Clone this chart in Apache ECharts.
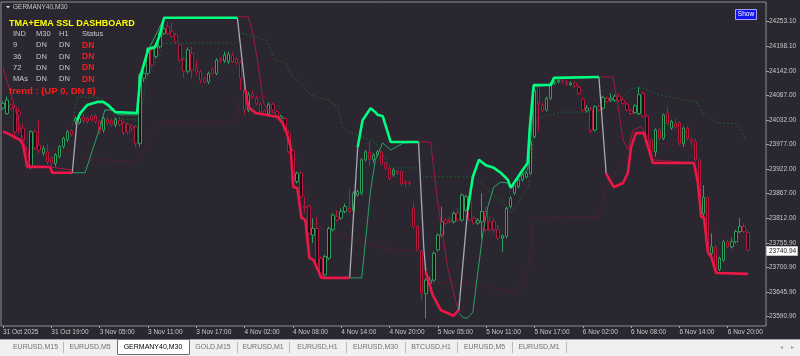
<!DOCTYPE html>
<html><head><meta charset="utf-8">
<script src="https://cdn.jsdelivr.net/npm/echarts@6/dist/echarts.min.js"></script>
<style>html,body{margin:0;padding:0;background:#2b2731;overflow:hidden}#c{width:800px;height:356px}</style>
</head><body><div id="c"></div>
<script>
// ---------- DATA ----------
const tickLabels = ["31 Oct 2025","31 Oct 19:00","3 Nov 05:00","3 Nov 11:00","3 Nov 17:00","4 Nov 02:00","4 Nov 08:00","4 Nov 14:00","4 Nov 20:00","5 Nov 05:00","5 Nov 11:00","5 Nov 17:00","6 Nov 02:00","6 Nov 08:00","6 Nov 14:00","6 Nov 20:00"];
const barsPerTick = 12;
const totalSlots = 190;
const priceTicks = [24253.10,24198.10,24142.00,24087.00,24032.00,23977.00,23922.00,23867.00,23812.00,23755.90,23700.90,23645.90,23590.90];
const lastPrice = 23740.94;

const opens = [24059,24047,24066,24062,24051,24014,23965,23928,24006,23976,23958,23961,23946,23935,23950,23973,23988,24008,24030,24026,24038,24036,24040,24041,24029,24010,24034,24031,24021,24031,24026,24023,24019,24017,23980,24126,24137,24190,24175,24197,24227,24242,24231,24223,24201,24169,24142,24182,24148,24141,24126,24118,24145,24137,24169,24165,24163,24178,24169,24161,24100,24055,24092,24081,24068,24053,24047,24068,24051,24036,24036,24003,23964,23894,23913,23839,23838,23774,23789,23722,23685,23722,23786,23815,23812,23827,23834,23830,23864,23868,23943,23961,23943,23954,23961,23935,23924,23909,23916,23916,23894,23892,23834,23793,23737,23643,23666,23673,23741,23774,23808,23808,23804,23823,23808,23830,23849,23812,23801,23804,23827,23804,23804,23786,23767,23771,23838,23868,23883,23898,23905,23913,23995,24107,24066,24055,24081,24115,24118,24122,24116,24112,24115,24106,24079,24053,24055,24010,24062,24059,24081,24077,24077,24086,24077,24068,24053,24049,24047,24092,24041,23987,23961,24010,23991,24047,24014,24025,24026,23980,24014,23989,23984,23941,23823,23857,23733,23747,23697,23718,23759,23748,23759,23782,23793,23780];
const closes = [24070,24077,24059,24006,24044,23988,23928,24006,23969,23965,23969,23939,23935,23954,23973,23991,24006,24000,24036,24036,24031,24029,24033,24029,24006,24036,24026,24023,24034,24023,24004,24006,24014,23980,24133,24137,24193,24156,24201,24227,24237,24227,24220,24208,24167,24142,24190,24145,24141,24122,24118,24137,24137,24167,24165,24178,24180,24163,24161,24126,24055,24089,24085,24070,24051,24047,24068,24055,24041,24040,24010,23961,23898,23913,23860,23836,23778,23789,23703,23681,23726,23789,23819,23808,23827,23838,23827,23868,23872,23943,23961,23944,23954,23961,23935,23924,23901,23920,23913,23890,23890,23891,23793,23741,23643,23673,23673,23733,23774,23804,23801,23804,23823,23808,23864,23860,23808,23801,23807,23827,23786,23786,23786,23767,23772,23834,23857,23887,23898,23909,23913,23984,24100,24070,24055,24081,24115,24118,24121,24118,24113,24115,24109,24092,24055,24059,24010,24062,24056,24083,24074,24081,24086,24077,24070,24055,24047,24064,24089,24041,23984,23961,24010,23991,24044,24025,24029,24017,23980,24014,23991,23984,23943,23860,23859,23741,23748,23697,23722,23759,23748,23759,23782,23793,23782,23740.94];
const lows = [24055,24044,24054,23988,24002,23980,23924,23922,23965,23958,23952,23932,23928,23928,23946,23968,23983,23995,24022,24022,24025,24024,24028,24024,24000,24004,24022,24018,24016,24018,23998,24000,24008,23972,23972,24118,24133,24150,24170,24193,24223,24223,24216,24204,24163,24126,24137,24126,24133,24115,24115,24113,24133,24133,24160,24160,24158,24160,24156,24100,24044,24050,24080,24066,24047,24043,24043,24051,24037,24032,24006,23957,23894,23890,23856,23823,23774,23756,23699,23677,23677,23718,23782,23804,23808,23823,23823,23826,23860,23864,23939,23928,23935,23950,23931,23920,23897,23905,23909,23883,23880,23883,23789,23737,23628,23587,23658,23669,23737,23770,23797,23800,23800,23804,23804,23826,23804,23797,23797,23767,23782,23782,23778,23763,23737,23767,23834,23864,23879,23894,23901,23909,23991,24006,24051,24051,24077,24111,24114,24114,24109,24109,24105,24088,24051,24049,24002,24006,24051,24055,24070,24073,24073,24073,24066,24051,24043,24045,24043,24037,23980,23950,23950,23987,23987,24021,24010,24014,23976,23972,23987,23976,23939,23856,23816,23733,23726,23693,23693,23714,23744,23744,23755,23778,23778,23737];
const highs = [24074,24085,24070,24066,24059,24025,23972,24010,24012,24032,23975,23980,23952,23958,23976,23995,24010,24012,24040,24045,24047,24040,24045,24047,24033,24040,24040,24036,24038,24040,24033,24027,24023,24021,24138,24142,24197,24197,24205,24231,24242,24253,24253,24228,24205,24173,24195,24197,24167,24145,24130,24141,24150,24171,24173,24186,24186,24184,24173,24165,24107,24095,24098,24088,24072,24057,24072,24072,24055,24044,24040,24010,23968,23917,23917,23860,23842,23812,23815,23726,23730,23793,23823,23830,23834,23845,23879,23872,23876,23947,23965,23984,23958,23965,23965,23939,23928,23924,23920,23920,23898,23897,23849,23797,23741,23677,23680,23737,23778,23838,23812,23815,23827,23834,23868,23864,23853,23816,23812,23868,23838,23815,23812,23797,23776,23838,23861,23890,23902,23913,23917,23988,24104,24112,24070,24085,24119,24122,24126,24127,24122,24119,24119,24110,24083,24066,24062,24066,24066,24087,24085,24092,24090,24092,24081,24072,24057,24068,24107,24096,24045,23991,24014,24014,24047,24061,24033,24036,24030,24018,24018,23993,23991,23945,23886,23860,23778,23752,23726,23763,23763,23767,23786,23812,23800,23785];

// SSL lines: [bar index, price]
const sslUpThick = [
  [[18.4,24032],[19.2,24048],[20.9,24066],[23.4,24073],[24.9,24073],[26.1,24066],[27.9,24050],[33.3,24048],[34.1,24129],[36.1,24192],[37.8,24196],[38.8,24219],[40,24262],[58.2,24262]],
  [[88.1,23972],[89.3,24032],[91.3,24059],[92.5,24050],[93,24044],[94.3,24041],[96.3,23983],[103.2,23983]],
  [[115.4,23830],[116.7,23905],[118.2,23943],[119.9,23931],[121.9,23925],[123.6,23914],[125.4,23898],[126.1,23880],[127.4,23898],[128.6,23914],[130.3,23936],[130.8,24010],[131.8,24111],[136.1,24111],[136.8,24127],[148,24129]]
];
const sslDnThick = [
  [[0,24006],[1,24003],[4.2,23988],[5,23976],[5.7,23943],[6.2,23927],[11.7,23927],[12.2,23914],[17.2,23914]],
  [[60.2,24100],[60.9,24062],[62.7,24048],[65.2,24044],[68.2,24039],[69.4,24026],[70.4,24006],[71.4,23972],[72.1,23882],[73.1,23880],[74.1,23813],[75.1,23808],[76.1,23723],[77.1,23718],[79.1,23678],[86.1,23678]],
  [[105,23692],[106.7,23640],[108.7,23606],[111.9,23593],[113.2,23606]],
  [[149.8,23913],[150.2,23905],[151.7,23882],[154,23891],[155.2,23914],[156,23972],[157.2,24003],[159.2,24003],[160.2,23972],[161.4,23936],[171.6,23936],[172.6,23891],[173.4,23815],[174.1,23813],[175.1,23734],[175.9,23725],[177.1,23689],[185,23687]]
];
const sslFlip = [
  [[17.2,23914],[18.4,24032]],
  [[58.2,24262],[60.2,24100]],
  [[86.1,23678],[88.1,23972]],
  [[103.2,23983],[104.5,23747],[105,23692]],
  [[113.2,23606],[115.4,23830]],
  [[148,24129],[149.8,23913]]
];
const midUp = [
  [[17.2,23914],[20.4,23914],[24.1,24017],[25.3,24055],[27.4,24055],[28.6,24044],[33.3,24044],[34.1,24127],[36.1,24190],[40,24261],[58.2,24261]],
  [[86.1,23678],[89.1,23678],[91.3,23875],[92.5,23943],[94.3,23981],[96.3,23965],[99.5,23981],[103.2,23983]],
  [[113.2,23599],[114.4,23588],[115.4,23588],[116.7,23601],[117.9,23689],[119.2,23779],[120.4,23837],[121.9,23882],[123.6,23893],[125.4,23891],[126.1,23880],[127.9,23902],[130.3,23920],[131.3,24010],[131.8,24107],[136.1,24111],[136.8,24127],[148,24129]]
];
const midDn = [
  [[0,24151],[1.7,24100],[4.2,24017],[6,23954],[6.7,23931],[11.7,23927],[17.2,23920]],
  [[58.2,24264],[60.9,24264],[61.9,24234],[63.2,24167],[64.7,24071],[65.7,24055],[68.2,24044],[69.4,24026],[70.4,24006],[71.4,23972],[72.1,23882],[73.1,23880],[74.1,23813],[75.1,23808],[76.1,23723],[77.1,23718],[79.1,23678],[86.1,23678]],
  [[103.2,23983],[106.2,23983],[107.9,23853],[110.4,23703],[112.4,23628],[113.2,23601]],
  [[148,24129],[151.5,24129],[152.7,24066],[154,23988],[155.2,23965],[156.5,24010],[158.5,24017],[160.2,23994],[161.4,23943],[171.6,23936],[172.6,23891],[173.4,23815],[174.1,23813],[175.1,23734],[175.9,23725],[177.1,23689],[185,23687]]
];
const slowUp = [[17.2,24021],[18.4,24084],[19.7,24084],[24.1,24082],[26.1,24066],[27.9,24037],[33.3,24032],[34.1,24044],[35.8,24129],[38.3,24167],[39.8,24205],[58.2,24205],[58.9,24228],[65.2,24212],[67.7,24167],[70.2,24160],[71.9,24129],[73.9,24116],[75.9,24093],[78.4,24082],[80.8,24077],[83.1,24062],[84.3,24017],[85,24010],[87.5,23999],[90,23992],[92.5,23981],[93.7,23965],[96.2,23925],[103.2,23925],[104.5,23905],[116.9,23905],[118.7,23891],[121.2,23869],[124.4,23846],[126.2,23824],[127.9,23846],[130.4,23882],[131.2,23927],[131.9,24003],[132.9,24037],[136.1,24044],[138.6,24050],[148,24050],[149,24071],[154,24084],[156.5,24104],[159,24104],[161.5,24093],[166.4,24082],[172.1,24073],[173.9,24048],[177.1,24026],[182,24024],[183.3,24010],[184.5,23988]];
const slowDn = [[0,24017],[4.2,24015],[6.7,23972],[9.2,23961],[17.2,23961],[18.4,23949],[24.1,23943],[33.3,23938],[34.8,23961],[38.3,24017],[39.8,24028],[58.2,24028],[58.7,24084],[65.2,24084],[67.7,24055],[71.5,23988],[73.9,23909],[76.4,23842],[78.9,23790],[83.3,23779],[89.3,23756],[96.2,23741],[103.6,23738],[105.3,23667],[116,23667],[126,23646],[129,23658],[131,23725],[131.8,23813],[148,23815],[149.8,23882],[152.3,23914],[155.3,23949],[156.8,23994],[159,24006],[161.5,23981],[171.4,23972],[172.6,23943],[173.9,23837],[176.4,23779],[177.9,23770],[185.3,23770]];

const tabNames = ["EURUSD,M15","EURUSD,M5","GERMANY40,M30","GOLD,M15","EURUSD,M1","EURUSD,H1","EURUSD,M30","BTCUSD,H1","EURUSD,M5","EURUSD,M1"];
const activeTab = 2;
const dashHeader = ["IND","M30","H1","Status"];
const dashRows = [["9","DN","DN","DN"],["36","DN","DN","DN"],["72","DN","DN","DN"],["MAs","DN","DN","DN"]];
const dashTitle = "TMA+EMA SSL DASHBOARD";
const trendText = "trend : (UP 0, DN 8)";
const symbolTitle = "GERMANY40,M30";

// ---------- BUILD ----------
const categories = [];
for (let i = 0; i < totalSlots; i++) categories.push(i % barsPerTick === 0 && tickLabels[i / barsPerTick] ? tickLabels[i / barsPerTick] : '');
const candleData = opens.map((o, i) => [o, closes[i], lows[i], highs[i]]);
const showTick = (idx) => idx % barsPerTick === 0 && idx / barsPerTick < tickLabels.length;

const FF = '"Liberation Sans", Arial, sans-serif';
function lineSeries(pts, color, width, type, z) {
  return {type:'line', xAxisIndex:1, yAxisIndex:0, data:pts, symbol:'none', showSymbol:false, silent:true,
    lineStyle:{color, width, type:type||'solid'}, z:z||3, animation:false};
}
const series = [
  lineSeries(slowUp, '#1d5f2a', 1, [2,2], 1),
  lineSeries(slowDn, '#6a1a2a', 1, [2,2], 1),
  {type:'candlestick', xAxisIndex:0, yAxisIndex:0, data:candleData, barWidth:3, z:2,
   itemStyle:{color:'#141216', color0:'#141216', borderColor:'#2f9e5c', borderColor0:'#b5173f', borderWidth:1}}
];
midUp.forEach(s => series.push(lineSeries(s, '#27a366', 1, 'solid', 3)));
midDn.forEach(s => series.push(lineSeries(s, '#a3183f', 1, 'solid', 3)));
sslFlip.forEach(s => series.push(lineSeries(s, '#a8a8b0', 1.3, 'solid', 4)));
sslUpThick.forEach(s => series.push(lineSeries(s, '#00ff7f', 2.6, 'solid', 5)));
sslDnThick.forEach(s => series.push(lineSeries(s, '#ea1747', 2.6, 'solid', 5)));

function txt(x, y, text, font, fill, align) {
  return {type:'text', x, y, z:100, silent:true,
    style:{text, font, fill, textAlign:align||'left', textVerticalAlign:'middle', align:align||'left', verticalAlign:'middle'}};
}
const g = [];
// dashboard
g.push(txt(9, 24, dashTitle, 'bold 9px ' + FF, '#ffff00'));
const colX = [13, 36, 59, 82];
dashHeader.forEach((h, j) => g.push(txt(colX[j], 34, h, '7.5px ' + FF, '#c8c8c8')));
const rowY = [45, 56.5, 67.5, 79];
dashRows.forEach((r, i) => r.forEach((v, j) => {
  if (j === 3) g.push(txt(colX[j], rowY[i] + 0.5, v, 'bold 8.5px ' + FF, '#ff1c1c'));
  else g.push(txt(colX[j], rowY[i], v, '7.5px ' + FF, '#c8c8c8'));
}));
g.push(txt(9, 91, trendText, 'bold 9.5px ' + FF, '#ff1c1c'));
// symbol caption
g.push({type:'polygon', z:100, silent:true, shape:{points:[[6,6],[10,6],[8,8.5]]}, style:{fill:'#d0d0d0'}});
g.push(txt(13, 7.5, symbolTitle, '6.5px ' + FF, '#c8c8c8'));
// show button
g.push({type:'rect', z:100, silent:true, shape:{x:735.5, y:9.5, width:21, height:10}, style:{fill:'#1414ee', stroke:'#a0a0ff', lineWidth:1}});
g.push(txt(746, 14.5, 'Show', '6.5px ' + FF, '#ffffff', 'center'));
// current price label
g.push({type:'rect', z:100, silent:true, shape:{x:766.5, y:246.5, width:31, height:9}, style:{fill:'#ffffff', stroke:'#c0c0c0', lineWidth:1}});
g.push(txt(769, 251, lastPrice.toFixed(2), '6.5px ' + FF, '#202020'));
// tab bar
g.push({type:'rect', z:90, silent:true, shape:{x:0, y:339, width:800, height:17}, style:{fill:'#f0f0f0'}});
g.push({type:'line', z:91, silent:true, shape:{x1:0, y1:339.5, x2:800, y2:339.5}, style:{stroke:'#a8a8a8', lineWidth:1}});
const tabEdges = [8, 63, 117, 189, 237, 289, 346, 405, 457, 512, 566];
tabNames.forEach((t, i) => {
  const x0 = tabEdges[i], x1 = tabEdges[i + 1];
  if (i === activeTab) {
    g.push({type:'rect', z:92, silent:true, shape:{x:x0 + 0.5, y:339.5, width:x1 - x0, height:15}, style:{fill:'#ffffff', stroke:'#707070', lineWidth:1}});
  } else if (i !== activeTab - 1) {
    g.push({type:'line', z:92, silent:true, shape:{x1:x1 + 0.5, y1:342, x2:x1 + 0.5, y2:353}, style:{stroke:'#b8b8b8', lineWidth:1}});
  }
  g.push(txt((x0 + x1) / 2, 347.5, t, '7px ' + FF, i === activeTab ? '#000000' : '#707070', 'center'));
});
g.push(txt(781, 347.5, '◂', '6px ' + FF, '#a0a0a0', 'center'));
g.push(txt(792, 347.5, '▸', '6px ' + FF, '#a0a0a0', 'center'));

const chart = echarts.init(document.getElementById('c'), null, {renderer:'canvas'});
chart.setOption({
  animation:false,
  backgroundColor:'#2b2731',
  grid:{left:1, right:34, top:2, bottom:30, show:true, borderColor:'#8e8e8e', borderWidth:1, backgroundColor:'#2b2731'},
  xAxis:[
    {type:'category', data:categories, boundaryGap:true, gridIndex:0,
     axisLine:{show:false, onZero:false},
     axisTick:{show:true, interval:showTick, alignWithLabel:true, length:2, lineStyle:{color:'#a0a0a0'}},
     axisLabel:{interval:showTick, align:'left', margin:3, color:'#c8c8c8', fontSize:6.5, fontFamily:FF},
     splitLine:{show:false}},
    {type:'value', min:-0.5, max:totalSlots - 0.5, show:false, gridIndex:0, axisLine:{onZero:false}}
  ],
  yAxis:{type:'value', position:'right', min:23570, max:24297.3, scale:true,
    splitLine:{show:false}, axisLine:{show:false, onZero:false},
    axisTick:{show:true, customValues:priceTicks, length:3, lineStyle:{color:'#a0a0a0'}},
    axisLabel:{customValues:priceTicks, formatter:v => Number(v).toFixed(2), color:'#c8c8c8', fontSize:6.5, fontFamily:FF, margin:3}},
  series,
  graphic:g
});
</script></body></html>
